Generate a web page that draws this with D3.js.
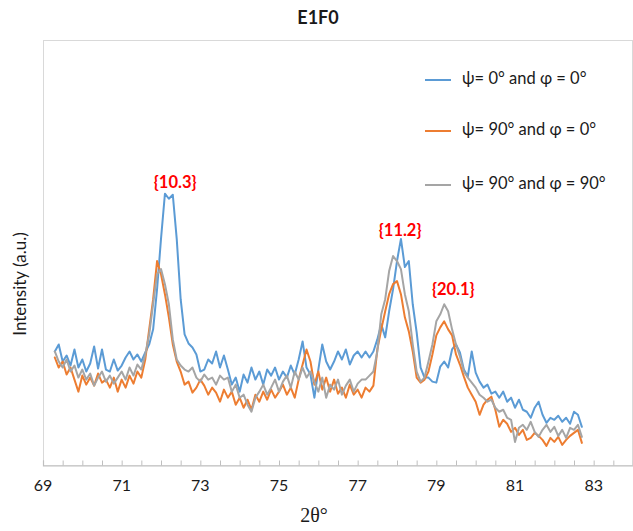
<!DOCTYPE html>
<html>
<head>
<meta charset="utf-8">
<script src="https://cdn.jsdelivr.net/npm/d3@7"></script>
<style>
  html, body { margin: 0; padding: 0; background: #fff; }
  svg { display: block; }
</style>
</head>
<body>
<div id="chart"></div>
<script>
// ---------- data ----------
const title = "E1F0";
const xTitle = "2θ°";
const yTitle = "Intensity (a.u.)";
const seriesNames = ["ψ= 0° and φ = 0°", "ψ= 90° and φ = 0°", "ψ= 90° and φ = 90°"];
const seriesColors = ["#5B9BD5", "#ED7D31", "#A5A5A5"];

// scan grid (2θ, degrees)
const scanStart = 69.3, scanStep = 0.1, scanCount = 135;
const twoTheta = d3.range(scanCount).map(i => +(scanStart + i * scanStep).toFixed(1));

const blue = [
  226,240,206,218,198,230,194,210,186,202,
  236,192,230,190,186,210,188,198,214,226,
  210,220,206,224,240,270,350,450,540,530,
  538,450,330,260,242,234,220,186,190,210,
  202,226,194,218,190,160,174,146,180,164,
  194,170,186,160,190,178,194,170,186,174,
  198,180,210,246,194,180,134,190,240,206,
  190,206,226,210,230,200,218,226,214,226,
  214,226,250,280,254,306,350,406,450,394,
  406,320,264,194,174,174,166,164,196,206,
  194,230,240,224,190,176,226,184,166,154,
  160,142,146,134,146,126,134,114,130,110,
  106,94,114,126,100,84,94,90,98,86,
  94,82,106,100,76
];
const orange = [
  214,194,206,180,194,170,146,178,160,174,
  158,182,164,170,154,174,146,170,154,178,
  162,186,174,210,270,330,406,380,340,294,
  240,206,186,160,166,144,154,170,158,140,
  154,144,126,150,134,146,120,134,114,130,
  110,140,126,146,130,150,134,146,160,140,
  154,134,170,200,230,206,160,186,150,174,
  146,170,142,154,134,160,140,150,134,154,
  146,158,230,270,306,340,360,366,340,294,
  266,226,174,164,170,186,220,258,274,286,
  270,258,220,200,176,154,140,126,100,120,
  130,136,110,76,90,82,66,74,60,70,
  50,54,64,58,50,38,54,46,56,40,
  50,58,64,70,44
];
const gray = [
  226,206,194,210,186,198,174,190,170,182,
  158,174,186,166,178,162,174,186,170,194,
  178,200,190,220,260,320,380,390,360,320,
  250,210,198,190,186,194,174,166,180,170,
  174,160,178,170,174,146,160,134,140,120,
  106,134,146,160,140,154,170,146,166,178,
  154,186,170,194,174,186,166,146,174,134,
  160,150,170,140,158,170,146,162,170,170,
  178,186,226,300,330,386,416,406,390,340,
  306,240,186,166,174,206,240,286,300,320,
  306,270,240,216,186,174,164,154,140,134,
  126,130,114,106,110,94,90,46,74,80,
  70,86,66,56,70,80,66,76,58,70,
  54,74,70,80,56
];
const seriesValues = [blue, orange, gray];

// peak annotations
const peakLabels = ["{10.3}", "{11.2}", "{20.1}"];
const peakX = [72.36, 78.08, 79.43];
const peakY = [560, 464, 346];

// axis
const xDomain = [69, 84];
const yDomain = [0, 846];
const xTickLabels = [69, 71, 73, 75, 77, 79, 81, 83];
const xMinorStep = 0.5;

// ---------- layout ----------
const W = 633, H = 531;
const plot = { left: 43, right: 633, top: 40, bottom: 465 };

const svg = d3.select("#chart").append("svg")
  .attr("width", W).attr("height", H)
  .attr("viewBox", `0 0 ${W} ${H}`);

const x = d3.scaleLinear().domain(xDomain).range([plot.left, plot.right]);
const y = d3.scaleLinear().domain(yDomain).range([plot.bottom, plot.top]);

// plot border (light)
svg.append("rect")
  .attr("x", plot.left + 0.5).attr("y", plot.top + 0.5)
  .attr("width", plot.right - plot.left - 1).attr("height", plot.bottom - plot.top)
  .attr("fill", "none").attr("stroke", "#d9d9d9").attr("stroke-width", 1);

// x axis: minor ticks every 0.5 inside, labels at odd integers
const xAxis = d3.axisBottom(x)
  .tickValues(d3.range(xDomain[0], xDomain[1] + 0.001, xMinorStep))
  .tickSize(-5)
  .tickFormat("");
const gx = svg.append("g")
  .attr("transform", `translate(0,${plot.bottom + 0.5})`)
  .call(xAxis);
gx.select(".domain").attr("stroke", "#bfbfbf").attr("stroke-width", 1.2);
gx.selectAll(".tick line").attr("stroke", "#bfbfbf");

svg.append("g").selectAll("text")
  .data(xTickLabels)
  .join("text")
  .attr("x", d => x(d))
  .attr("y", plot.bottom + 26)
  .attr("text-anchor", "middle")
  .attr("font-family", "Lato, 'Open Sans', sans-serif")
  .attr("font-size", 16)
  .attr("fill", "#1a1a1a")
  .text(d => d);

// lines
const line = d3.line()
  .x((d, i) => x(twoTheta[i]))
  .y(d => y(d));

svg.append("g").selectAll("path")
  .data(seriesValues)
  .join("path")
  .attr("d", d => line(d))
  .attr("fill", "none")
  .attr("stroke", (d, i) => seriesColors[i])
  .attr("stroke-width", 2)
  .attr("stroke-linejoin", "round")
  .attr("stroke-linecap", "round");

// peak labels
svg.append("g").selectAll("text")
  .data(peakLabels)
  .join("text")
  .attr("x", (d, i) => x(peakX[i]))
  .attr("y", (d, i) => y(peakY[i]))
  .attr("text-anchor", "middle")
  .attr("dominant-baseline", "middle")
  .attr("font-family", "Lato, 'Open Sans', sans-serif")
  .attr("font-weight", "bold")
  .attr("font-size", 16.5)
  .attr("fill", "#ff0000")
  .text(d => d);

// legend
const legendRowsY = [80, 131, 185];
const lg = svg.append("g");
seriesNames.forEach((name, i) => {
  lg.append("line")
    .attr("x1", 425).attr("x2", 451)
    .attr("y1", legendRowsY[i]).attr("y2", legendRowsY[i])
    .attr("stroke", seriesColors[i]).attr("stroke-width", 2);
  lg.append("text")
    .attr("x", 462).attr("y", legendRowsY[i])
    .attr("dominant-baseline", "middle")
    .attr("font-family", "Lato, 'Open Sans', sans-serif")
    .attr("font-size", 16.5)
    .attr("fill", "#1a1a1a")
    .text(name);
});

// title (centred on the whole chart area)
svg.append("text")
  .attr("x", 318).attr("y", 24)
  .attr("text-anchor", "middle")
  .attr("font-family", "Lato, 'Open Sans', sans-serif")
  .attr("font-weight", "bold")
  .attr("font-size", 18)
  .attr("fill", "#1a1a1a")
  .text(title);

// axis titles
svg.append("text")
  .attr("x", 314)
  .attr("y", 522)
  .attr("text-anchor", "middle")
  .attr("font-family", "'Liberation Serif', 'DejaVu Serif', serif")
  .attr("font-size", 20)
  .attr("fill", "#1a1a1a")
  .text(xTitle);

svg.append("text")
  .attr("transform", `translate(22,284) rotate(-90)`)
  .attr("text-anchor", "middle")
  .attr("dominant-baseline", "middle")
  .attr("font-family", "Lato, 'Open Sans', sans-serif")
  .attr("font-size", 17)
  .attr("fill", "#1a1a1a")
  .text(yTitle);
</script>
</body>
</html>
